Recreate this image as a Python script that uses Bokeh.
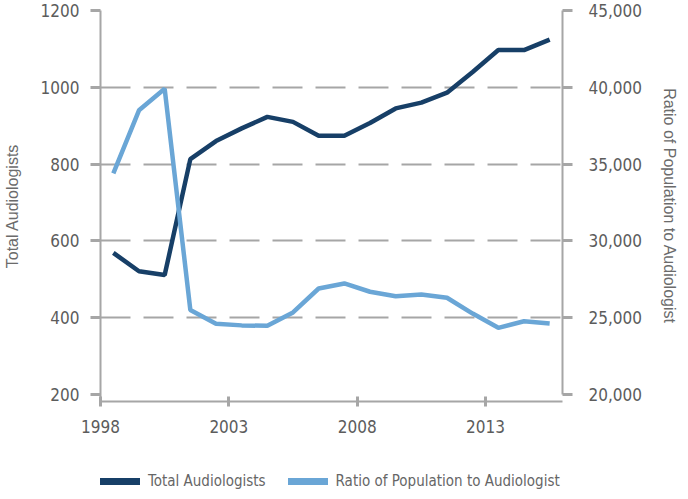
from bokeh.plotting import figure
from bokeh.layouts import column
from bokeh.models import (ColumnDataSource, Range1d, LinearAxis, FixedTicker,
                          NumeralTickFormatter, Legend, LegendItem)
from bokeh.transform import dodge
from bokeh.embed import file_html
from bokeh.resources import INLINE

# ---- data ----
years = list(range(1998, 2016))
total_audiologists = [569, 521, 511, 813, 860, 893, 923, 910, 874, 874,
                      907, 945, 960, 986, 1040, 1097, 1097, 1124]
ratio_pop = [34400, 38500, 39900, 25500, 24600, 24500, 24470, 25340, 26900, 27230,
             26690, 26400, 26510, 26300, 25270, 24340, 24770, 24620]
x_ticks = [1998, 2003, 2008, 2013]
left_ticks = [200, 400, 600, 800, 1000, 1200]
right_ticks = [20000, 25000, 30000, 35000, 40000, 45000]
series_names = ["Total Audiologists", "Ratio of Population to Audiologist"]

DARK = "#173f67"
LIGHT = "#6aa6d6"
GRAY = "#a6a6a6"
TICK_FONT = "'DejaVu Sans Condensed', 'Liberation Sans Narrow', 'Liberation Sans'"
TITLE_FONT = "Liberation Sans"

src = ColumnDataSource(dict(year=years, total=total_audiologists, ratio=ratio_pop))

p = figure(width=680, height=443,
           min_border_left=98, min_border_right=115, min_border_top=10, min_border_bottom=42,
           x_range=Range1d(1998, 2016), y_range=Range1d(181.8, 1200),
           output_backend="svg", toolbar_location=None, tools="")
p.outline_line_color = None
p.background_fill_color = "white"
p.border_fill_color = "white"
p.extra_y_ranges = {"ratio": Range1d(19544, 45000)}

# grid
p.xgrid.visible = False
p.ygrid.ticker = FixedTicker(ticks=left_ticks[1:])
p.ygrid.grid_line_color = GRAY
p.ygrid.grid_line_width = 2
p.ygrid.grid_line_dash = "30 13"

# x axis
xa = p.xaxis[0]
xa.ticker = FixedTicker(ticks=x_ticks)
xa.axis_line_color = GRAY
xa.axis_line_width = 2
xa.major_tick_line_color = GRAY
xa.major_tick_line_width = 3
xa.major_tick_in = 5
xa.major_tick_out = 5
xa.minor_tick_line_color = None
xa.major_label_standoff = 13
xa.major_label_text_font = TICK_FONT
xa.major_label_text_font_size = "17px"
xa.major_label_text_color = "#5c5c5c"

# left axis
ya = p.yaxis[0]
ya.ticker = FixedTicker(ticks=left_ticks)
ya.axis_line_color = GRAY
ya.axis_line_width = 2
ya.major_tick_line_color = GRAY
ya.major_tick_line_width = 3
ya.major_tick_in = 0
ya.major_tick_out = 10
ya.minor_tick_line_color = None
ya.major_label_standoff = 11
ya.major_label_text_font = TICK_FONT
ya.major_label_text_font_size = "17px"
ya.major_label_text_color = "#5c5c5c"
ya.axis_label = series_names[0]
ya.axis_label_text_font = TITLE_FONT
ya.axis_label_text_font_style = "normal"
ya.axis_label_text_font_size = "16px"
ya.axis_label_text_color = "#6b6b6b"
ya.axis_label_standoff = 17

# right axis
ra = LinearAxis(y_range_name="ratio", bounds=(20000, 45000))
ra.ticker = FixedTicker(ticks=right_ticks)
ra.formatter = NumeralTickFormatter(format="0,0")
ra.axis_line_color = GRAY
ra.axis_line_width = 2
ra.major_tick_line_color = GRAY
ra.major_tick_line_width = 3
ra.major_tick_in = 0
ra.major_tick_out = 10
ra.minor_tick_line_color = None
ra.major_label_standoff = 16
ra.major_label_text_font = TICK_FONT
ra.major_label_text_font_size = "17px"
ra.major_label_text_color = "#5c5c5c"
ra.axis_label = series_names[1]
ra.axis_label_text_font = TITLE_FONT
ra.axis_label_text_font_style = "normal"
ra.axis_label_text_font_size = "16px"
ra.axis_label_text_color = "#6b6b6b"
ra.axis_label_standoff = 16
p.add_layout(ra, "right")

# lines (values plotted at the middle of each year)
p.line(x=dodge("year", 0.5), y="total", source=src, line_color=DARK, line_width=4.5)
p.line(x=dodge("year", 0.5), y="ratio", source=src, line_color=LIGHT, line_width=4.5,
       y_range_name="ratio")

# ---- legend strip below the chart ----
# same series drawn into a strip whose ranges exclude them (only the legend samples show)
p2 = figure(width=680, height=48, min_border=0,
            x_range=Range1d(0, 1), y_range=Range1d(0, 1),
            x_axis_type=None, y_axis_type=None,
            output_backend="svg", toolbar_location=None, tools="")
p2.outline_line_color = None
p2.xgrid.visible = False
p2.ygrid.visible = False
leg_dark = p2.line(x=dodge("year", 0.5), y="total", source=src,
                   line_color=DARK, line_width=7, line_cap="round")
leg_light = p2.line(x=dodge("year", 0.5), y="ratio", source=src,
                    line_color=LIGHT, line_width=7, line_cap="round")

legend = Legend(items=[LegendItem(label=series_names[0], renderers=[leg_dark]),
                       LegendItem(label=series_names[1], renderers=[leg_light])],
                orientation="horizontal", location=(0, 0),
                glyph_width=40, glyph_height=20, label_standoff=8, spacing=22,
                padding=0, margin=0, border_line_color=None, background_fill_alpha=0,
                label_text_font=TICK_FONT, label_text_font_size="15px",
                label_text_color="#666666", label_height=20)
p2.add_layout(legend, "center")

layout = column(p, p2, spacing=0)
open("out.html", "w").write(file_html(layout, INLINE))
